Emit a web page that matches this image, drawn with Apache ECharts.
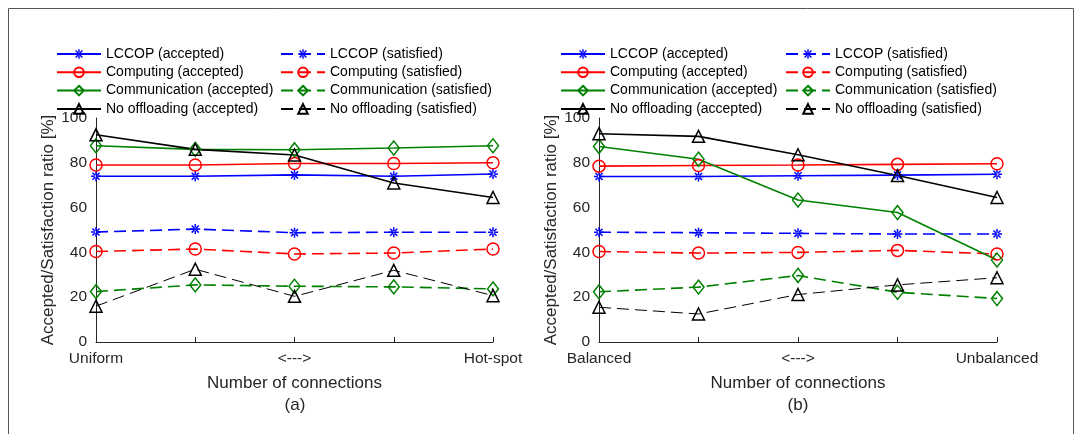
<!DOCTYPE html>
<html>
<head>
<meta charset="utf-8">
<script src="https://cdn.jsdelivr.net/npm/echarts@6/dist/echarts.min.js"></script>
<style>
html,body{margin:0;padding:0;background:#fff;}
#chart{width:1078px;height:434px;}
</style>
</head>
<body>
<div id="chart"></div>
<script>
// ---------- data ----------
const categoriesA = ['Uniform', '', '<--->', '', 'Hot-spot'];
const categoriesB = ['Balanced', '', '<--->', '', 'Unbalanced'];
const yTicks = [0, 20, 40, 60, 80, 100];

const seriesNames = [
  'LCCOP (accepted)', 'LCCOP (satisfied)',
  'Computing (accepted)', 'Computing (satisfied)',
  'Communication (accepted)', 'Communication (satisfied)',
  'No offloading (accepted)', 'No offloading (satisfied)'
];

// panel (a)
const lccopAccA = [74, 74, 74.6, 74, 75];
const lccopSatA = [49.1, 50.4, 48.8, 49, 49];
const compAccA  = [79, 79, 79.7, 79.7, 80];
const compSatA  = [40.4, 41.5, 39.3, 39.7, 41.5];
const commAccA  = [87.6, 86, 85.8, 86.6, 87.6];
const commSatA  = [22.5, 25.5, 24.9, 24.6, 23.7];
const noOffAccA = [92.5, 86, 83.5, 71, 64.5];
const noOffSatA = [16, 32.5, 20.4, 32, 20.7];

// panel (b)
const lccopAccB = [73.9, 73.9, 74.2, 74.5, 74.9];
const lccopSatB = [49, 48.8, 48.5, 48.2, 48.2];
const compAccB  = [78.5, 78.8, 79, 79.3, 79.6];
const compSatB  = [40.4, 39.7, 40, 40.9, 39.3];
const commAccB  = [87.3, 81.6, 63.4, 57.8, 36.6];
const commSatB  = [22.4, 24.5, 29.7, 22.2, 19.4];
const noOffAccB = [93, 91.8, 83.6, 74.3, 64.5];
const noOffSatB = [15.5, 12.5, 21.2, 25.5, 28.7];

// ---------- styles ----------
const FONT = 'Liberation Sans, Arial, Helvetica, sans-serif';
const AX = '#262626';
const BLUE = '#0000ff', RED = '#ff0000', GREEN = '#008000', BLACK = '#000000';
const ASTERISK = 'path://M-0.9,-6L0.9,-6L0.9,6L-0.9,6Z M-6,-0.9L6,-0.9L6,0.9L-6,0.9Z M3.61,4.88L4.88,3.61L-3.61,-4.88L-4.88,-3.61Z M4.88,-3.61L3.61,-4.88L-4.88,3.61L-3.61,4.88Z';

const styleDefs = [
  {color: BLUE,  symbol: ASTERISK,  size: 10, filled: true},
  {color: RED,   symbol: 'circle',  size: 12, filled: false},
  {color: GREEN, symbol: 'diamond', size: [11, 14], filled: false},
  {color: BLACK, symbol: 'triangle', size: 12, filled: false}
];

function mk(name, data, idx, styleIdx, dashed) {
  const s = styleDefs[styleIdx];
  const isBlackSat = styleIdx === 3 && dashed;
  return {
    name: name,
    type: 'line',
    xAxisIndex: idx, yAxisIndex: idx,
    data: data,
    symbol: s.symbol,
    symbolSize: s.size,
    showAllSymbol: true,
    animation: false,
    lineStyle: {color: s.color, width: isBlackSat ? 1 : 1.6, type: dashed ? [12, 6] : 'solid'},
    itemStyle: s.filled ? {color: s.color, borderWidth: 0}
                        : {color: 'rgba(255,255,255,0)', borderColor: s.color, borderWidth: 1.5},
    emphasis: {disabled: true}
  };
}

const series = [
  mk(seriesNames[0], lccopAccA, 0, 0, false),
  mk(seriesNames[1], lccopSatA, 0, 0, true),
  mk(seriesNames[2], compAccA, 0, 1, false),
  mk(seriesNames[3], compSatA, 0, 1, true),
  mk(seriesNames[4], commAccA, 0, 2, false),
  mk(seriesNames[5], commSatA, 0, 2, true),
  mk(seriesNames[6], noOffAccA, 0, 3, false),
  mk(seriesNames[7], noOffSatA, 0, 3, true),
  mk(seriesNames[0], lccopAccB, 1, 0, false),
  mk(seriesNames[1], lccopSatB, 1, 0, true),
  mk(seriesNames[2], compAccB, 1, 1, false),
  mk(seriesNames[3], compSatB, 1, 1, true),
  mk(seriesNames[4], commAccB, 1, 2, false),
  mk(seriesNames[5], commSatB, 1, 2, true),
  mk(seriesNames[6], noOffAccB, 1, 3, false),
  mk(seriesNames[7], noOffSatB, 1, 3, true)
];

function legend(left, names) {
  return {
    left: left, top: 47, orient: 'vertical',
    itemWidth: 44, itemHeight: 12, itemGap: 4.3,
    selectedMode: false,
    data: names,
    textStyle: {fontFamily: FONT, fontSize: 14, color: '#000', padding: [0, 0, 0, 0]},
    padding: 0
  };
}
const accNames = [seriesNames[0], seriesNames[2], seriesNames[4], seriesNames[6]];
const satNames = [seriesNames[1], seriesNames[3], seriesNames[5], seriesNames[7]];

function xAx(idx, cats) {
  return {
    type: 'category', gridIndex: idx, data: cats, boundaryGap: false,
    name: 'Number of connections', nameLocation: 'middle', nameGap: 33,
    nameTextStyle: {fontFamily: FONT, fontSize: 17, color: AX},
    axisLine: {lineStyle: {color: AX, width: 1}},
    axisTick: {show: true, inside: true, length: 5, alignWithLabel: true, lineStyle: {color: AX}},
    axisLabel: {fontFamily: FONT, fontSize: 15.5, color: AX, margin: 9, interval: 0, showMinLabel: true, showMaxLabel: true},
    splitLine: {show: false}
  };
}
function yAx(idx) {
  return {
    type: 'value', gridIndex: idx, min: 0, max: 100, interval: 20,
    name: 'Accepted/Satisfaction ratio [%]', nameLocation: 'middle', nameGap: 38,
    nameTextStyle: {fontFamily: FONT, fontSize: 17, color: AX},
    axisLine: {show: true, lineStyle: {color: AX, width: 1}},
    axisTick: {show: false},
    axisLabel: {fontFamily: FONT, fontSize: 15.5, color: AX, margin: 9,
      formatter: function (v) { return yTicks.indexOf(v) >= 0 ? String(v) : ''; }},
    splitLine: {show: false}
  };
}

const option = {
  backgroundColor: '#fff',
  animation: false,
  grid: [
    {left: 96, top: 118, width: 397, height: 224},
    {left: 599, top: 118, width: 398, height: 224}
  ],
  legend: [
    legend(56, accNames), legend(280, satNames),
    legend(560, accNames), legend(785, satNames)
  ],
  xAxis: [xAx(0, categoriesA), xAx(1, categoriesB)],
  yAxis: [yAx(0), yAx(1)],
  series: series,
  graphic: [
    {type: 'rect', shape: {x: 8.5, y: 8.5, width: 1065, height: 440},
     style: {fill: 'none', stroke: '#555', lineWidth: 1}, silent: true},
    {type: 'text', x: 295, y: 405, style: {text: '(a)', font: '17px ' + FONT, fill: AX, textAlign: 'center', textVerticalAlign: 'middle'}},
    {type: 'text', x: 798, y: 405, style: {text: '(b)', font: '17px ' + FONT, fill: AX, textAlign: 'center', textVerticalAlign: 'middle'}}
  ]
};

const chart = echarts.init(document.getElementById('chart'), null, {renderer: 'canvas'});
chart.setOption(option);
</script>
</body>
</html>
